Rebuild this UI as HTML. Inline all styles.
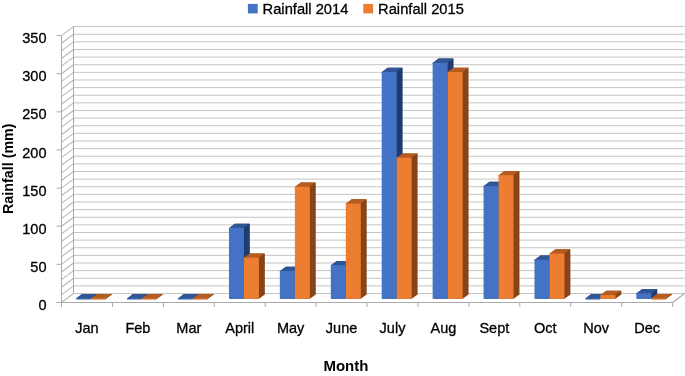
<!DOCTYPE html>
<html><head><meta charset="utf-8"><style>
html,body{margin:0;padding:0;background:#fff;}
svg{display:block;will-change:transform;}
.t{font-family:"Liberation Sans",sans-serif;font-size:14.5px;fill:#000;stroke:#000;stroke-width:0.3px;}
.lg{font-size:14.7px;}
.b{font-family:"Liberation Sans",sans-serif;font-weight:bold;fill:#000;}
</style></head><body>
<svg width="685" height="376" viewBox="0 0 685 376">
<rect width="685" height="376" fill="#fff"/>
<line x1="73.5" y1="293.50" x2="684.6" y2="293.50" stroke="#c4c4c4" stroke-width="1"/>
<line x1="73.5" y1="285.87" x2="684.6" y2="285.87" stroke="#c4c4c4" stroke-width="1"/>
<line x1="73.5" y1="278.25" x2="684.6" y2="278.25" stroke="#c4c4c4" stroke-width="1"/>
<line x1="73.5" y1="270.62" x2="684.6" y2="270.62" stroke="#c4c4c4" stroke-width="1"/>
<line x1="73.5" y1="263.00" x2="684.6" y2="263.00" stroke="#c4c4c4" stroke-width="1"/>
<line x1="73.5" y1="255.37" x2="684.6" y2="255.37" stroke="#c4c4c4" stroke-width="1"/>
<line x1="73.5" y1="247.74" x2="684.6" y2="247.74" stroke="#c4c4c4" stroke-width="1"/>
<line x1="73.5" y1="240.12" x2="684.6" y2="240.12" stroke="#c4c4c4" stroke-width="1"/>
<line x1="73.5" y1="232.49" x2="684.6" y2="232.49" stroke="#c4c4c4" stroke-width="1"/>
<line x1="73.5" y1="224.87" x2="684.6" y2="224.87" stroke="#c4c4c4" stroke-width="1"/>
<line x1="73.5" y1="217.24" x2="684.6" y2="217.24" stroke="#c4c4c4" stroke-width="1"/>
<line x1="73.5" y1="209.61" x2="684.6" y2="209.61" stroke="#c4c4c4" stroke-width="1"/>
<line x1="73.5" y1="201.99" x2="684.6" y2="201.99" stroke="#c4c4c4" stroke-width="1"/>
<line x1="73.5" y1="194.36" x2="684.6" y2="194.36" stroke="#c4c4c4" stroke-width="1"/>
<line x1="73.5" y1="186.74" x2="684.6" y2="186.74" stroke="#c4c4c4" stroke-width="1"/>
<line x1="73.5" y1="179.11" x2="684.6" y2="179.11" stroke="#c4c4c4" stroke-width="1"/>
<line x1="73.5" y1="171.48" x2="684.6" y2="171.48" stroke="#c4c4c4" stroke-width="1"/>
<line x1="73.5" y1="163.86" x2="684.6" y2="163.86" stroke="#c4c4c4" stroke-width="1"/>
<line x1="73.5" y1="156.23" x2="684.6" y2="156.23" stroke="#c4c4c4" stroke-width="1"/>
<line x1="73.5" y1="148.61" x2="684.6" y2="148.61" stroke="#c4c4c4" stroke-width="1"/>
<line x1="73.5" y1="140.98" x2="684.6" y2="140.98" stroke="#c4c4c4" stroke-width="1"/>
<line x1="73.5" y1="133.35" x2="684.6" y2="133.35" stroke="#c4c4c4" stroke-width="1"/>
<line x1="73.5" y1="125.73" x2="684.6" y2="125.73" stroke="#c4c4c4" stroke-width="1"/>
<line x1="73.5" y1="118.10" x2="684.6" y2="118.10" stroke="#c4c4c4" stroke-width="1"/>
<line x1="73.5" y1="110.48" x2="684.6" y2="110.48" stroke="#c4c4c4" stroke-width="1"/>
<line x1="73.5" y1="102.85" x2="684.6" y2="102.85" stroke="#c4c4c4" stroke-width="1"/>
<line x1="73.5" y1="95.22" x2="684.6" y2="95.22" stroke="#c4c4c4" stroke-width="1"/>
<line x1="73.5" y1="87.60" x2="684.6" y2="87.60" stroke="#c4c4c4" stroke-width="1"/>
<line x1="73.5" y1="79.97" x2="684.6" y2="79.97" stroke="#c4c4c4" stroke-width="1"/>
<line x1="73.5" y1="72.35" x2="684.6" y2="72.35" stroke="#c4c4c4" stroke-width="1"/>
<line x1="73.5" y1="64.72" x2="684.6" y2="64.72" stroke="#c4c4c4" stroke-width="1"/>
<line x1="73.5" y1="57.09" x2="684.6" y2="57.09" stroke="#c4c4c4" stroke-width="1"/>
<line x1="73.5" y1="49.47" x2="684.6" y2="49.47" stroke="#c4c4c4" stroke-width="1"/>
<line x1="73.5" y1="41.84" x2="684.6" y2="41.84" stroke="#c4c4c4" stroke-width="1"/>
<line x1="73.5" y1="34.22" x2="684.6" y2="34.22" stroke="#c4c4c4" stroke-width="1"/>
<line x1="73.5" y1="26.59" x2="684.6" y2="26.59" stroke="#c4c4c4" stroke-width="1"/>
<line x1="61.5" y1="302.50" x2="73.5" y2="293.50" stroke="#b8b8b8" stroke-width="1.05"/>
<line x1="61.5" y1="294.87" x2="73.5" y2="285.87" stroke="#b8b8b8" stroke-width="1.05"/>
<line x1="61.5" y1="287.25" x2="73.5" y2="278.25" stroke="#b8b8b8" stroke-width="1.05"/>
<line x1="61.5" y1="279.62" x2="73.5" y2="270.62" stroke="#b8b8b8" stroke-width="1.05"/>
<line x1="61.5" y1="272.00" x2="73.5" y2="263.00" stroke="#b8b8b8" stroke-width="1.05"/>
<line x1="61.5" y1="264.37" x2="73.5" y2="255.37" stroke="#b8b8b8" stroke-width="1.05"/>
<line x1="61.5" y1="256.74" x2="73.5" y2="247.74" stroke="#b8b8b8" stroke-width="1.05"/>
<line x1="61.5" y1="249.12" x2="73.5" y2="240.12" stroke="#b8b8b8" stroke-width="1.05"/>
<line x1="61.5" y1="241.49" x2="73.5" y2="232.49" stroke="#b8b8b8" stroke-width="1.05"/>
<line x1="61.5" y1="233.87" x2="73.5" y2="224.87" stroke="#b8b8b8" stroke-width="1.05"/>
<line x1="61.5" y1="226.24" x2="73.5" y2="217.24" stroke="#b8b8b8" stroke-width="1.05"/>
<line x1="61.5" y1="218.61" x2="73.5" y2="209.61" stroke="#b8b8b8" stroke-width="1.05"/>
<line x1="61.5" y1="210.99" x2="73.5" y2="201.99" stroke="#b8b8b8" stroke-width="1.05"/>
<line x1="61.5" y1="203.36" x2="73.5" y2="194.36" stroke="#b8b8b8" stroke-width="1.05"/>
<line x1="61.5" y1="195.74" x2="73.5" y2="186.74" stroke="#b8b8b8" stroke-width="1.05"/>
<line x1="61.5" y1="188.11" x2="73.5" y2="179.11" stroke="#b8b8b8" stroke-width="1.05"/>
<line x1="61.5" y1="180.48" x2="73.5" y2="171.48" stroke="#b8b8b8" stroke-width="1.05"/>
<line x1="61.5" y1="172.86" x2="73.5" y2="163.86" stroke="#b8b8b8" stroke-width="1.05"/>
<line x1="61.5" y1="165.23" x2="73.5" y2="156.23" stroke="#b8b8b8" stroke-width="1.05"/>
<line x1="61.5" y1="157.61" x2="73.5" y2="148.61" stroke="#b8b8b8" stroke-width="1.05"/>
<line x1="61.5" y1="149.98" x2="73.5" y2="140.98" stroke="#b8b8b8" stroke-width="1.05"/>
<line x1="61.5" y1="142.35" x2="73.5" y2="133.35" stroke="#b8b8b8" stroke-width="1.05"/>
<line x1="61.5" y1="134.73" x2="73.5" y2="125.73" stroke="#b8b8b8" stroke-width="1.05"/>
<line x1="61.5" y1="127.10" x2="73.5" y2="118.10" stroke="#b8b8b8" stroke-width="1.05"/>
<line x1="61.5" y1="119.48" x2="73.5" y2="110.48" stroke="#b8b8b8" stroke-width="1.05"/>
<line x1="61.5" y1="111.85" x2="73.5" y2="102.85" stroke="#b8b8b8" stroke-width="1.05"/>
<line x1="61.5" y1="104.22" x2="73.5" y2="95.22" stroke="#b8b8b8" stroke-width="1.05"/>
<line x1="61.5" y1="96.60" x2="73.5" y2="87.60" stroke="#b8b8b8" stroke-width="1.05"/>
<line x1="61.5" y1="88.97" x2="73.5" y2="79.97" stroke="#b8b8b8" stroke-width="1.05"/>
<line x1="61.5" y1="81.35" x2="73.5" y2="72.35" stroke="#b8b8b8" stroke-width="1.05"/>
<line x1="61.5" y1="73.72" x2="73.5" y2="64.72" stroke="#b8b8b8" stroke-width="1.05"/>
<line x1="61.5" y1="66.09" x2="73.5" y2="57.09" stroke="#b8b8b8" stroke-width="1.05"/>
<line x1="61.5" y1="58.47" x2="73.5" y2="49.47" stroke="#b8b8b8" stroke-width="1.05"/>
<line x1="61.5" y1="50.84" x2="73.5" y2="41.84" stroke="#b8b8b8" stroke-width="1.05"/>
<line x1="61.5" y1="43.22" x2="73.5" y2="34.22" stroke="#b8b8b8" stroke-width="1.05"/>
<line x1="61.5" y1="35.59" x2="73.5" y2="26.59" stroke="#b8b8b8" stroke-width="1.05"/>
<line x1="73.5" y1="26.59" x2="73.5" y2="293.50" stroke="#aaaaaa" stroke-width="1"/>
<line x1="672.60" y1="302.5" x2="684.60" y2="293.5" stroke="#aaaaaa" stroke-width="1.1"/>
<polygon points="76.96,298.8 91.16,298.8 97.06,294.50 97.06,294.00 82.06,294.00 76.96,298.30" fill="#1f3c71"/>
<polygon points="76.16,298.30 82.06,294.00 96.76,294.00 90.86,298.30 90.86,299.50 76.16,299.50" fill="#2f5597"/>
<rect x="76.16" y="298.30" width="15.0" height="0.50" fill="#4472c4"/>
<polygon points="91.96,298.8 106.16,298.8 112.06,294.50 112.06,294.00 97.06,294.00 91.96,298.30" fill="#874418"/>
<polygon points="91.16,298.30 97.06,294.00 111.76,294.00 105.86,298.30 105.86,299.50 91.16,299.50" fill="#b65c20"/>
<rect x="91.16" y="298.30" width="15.0" height="0.50" fill="#ed7d31"/>
<polygon points="127.89,298.8 142.09,298.8 147.99,294.50 147.99,294.00 132.99,294.00 127.89,298.30" fill="#1f3c71"/>
<polygon points="127.09,298.30 132.99,294.00 147.69,294.00 141.79,298.30 141.79,299.50 127.09,299.50" fill="#2f5597"/>
<rect x="127.09" y="298.30" width="15.0" height="0.50" fill="#4472c4"/>
<polygon points="142.89,298.8 157.09,298.8 162.99,294.50 162.99,294.00 147.99,294.00 142.89,298.30" fill="#874418"/>
<polygon points="142.09,298.30 147.99,294.00 162.69,294.00 156.79,298.30 156.79,299.50 142.09,299.50" fill="#b65c20"/>
<rect x="142.09" y="298.30" width="15.0" height="0.50" fill="#ed7d31"/>
<polygon points="178.81,298.8 193.01,298.8 198.91,294.50 198.91,294.00 183.91,294.00 178.81,298.30" fill="#1f3c71"/>
<polygon points="178.01,298.30 183.91,294.00 198.61,294.00 192.71,298.30 192.71,299.50 178.01,299.50" fill="#2f5597"/>
<rect x="178.01" y="298.30" width="15.0" height="0.50" fill="#4472c4"/>
<polygon points="193.81,298.8 208.01,298.8 213.91,294.50 213.91,294.00 198.91,294.00 193.81,298.30" fill="#874418"/>
<polygon points="193.01,298.30 198.91,294.00 213.61,294.00 207.71,298.30 207.71,299.50 193.01,299.50" fill="#b65c20"/>
<rect x="193.01" y="298.30" width="15.0" height="0.50" fill="#ed7d31"/>
<polygon points="229.74,298.8 243.94,298.8 249.84,294.50 249.84,223.70 234.84,223.70 229.74,228.00" fill="#1f3c71"/>
<polygon points="228.94,228.00 234.84,223.70 249.54,223.70 243.64,228.00 243.64,229.20 228.94,229.20" fill="#2f5597"/>
<rect x="228.94" y="228.00" width="15.0" height="70.80" fill="#4472c4"/>
<polygon points="244.74,298.8 258.94,298.8 264.84,294.50 264.84,253.40 249.84,253.40 244.74,257.70" fill="#874418"/>
<polygon points="243.94,257.70 249.84,253.40 264.54,253.40 258.64,257.70 258.64,258.90 243.94,258.90" fill="#b65c20"/>
<rect x="243.94" y="257.70" width="15.0" height="41.10" fill="#ed7d31"/>
<polygon points="280.66,298.8 294.86,298.8 300.76,294.50 300.76,266.70 285.76,266.70 280.66,271.00" fill="#1f3c71"/>
<polygon points="279.86,271.00 285.76,266.70 300.46,266.70 294.56,271.00 294.56,272.20 279.86,272.20" fill="#2f5597"/>
<rect x="279.86" y="271.00" width="15.0" height="27.80" fill="#4472c4"/>
<polygon points="295.66,298.8 309.86,298.8 315.76,294.50 315.76,182.40 300.76,182.40 295.66,186.70" fill="#874418"/>
<polygon points="294.86,186.70 300.76,182.40 315.46,182.40 309.56,186.70 309.56,187.90 294.86,187.90" fill="#b65c20"/>
<rect x="294.86" y="186.70" width="15.0" height="112.10" fill="#ed7d31"/>
<polygon points="331.59,298.8 345.79,298.8 351.69,294.50 351.69,260.90 336.69,260.90 331.59,265.20" fill="#1f3c71"/>
<polygon points="330.79,265.20 336.69,260.90 351.39,260.90 345.49,265.20 345.49,266.40 330.79,266.40" fill="#2f5597"/>
<rect x="330.79" y="265.20" width="15.0" height="33.60" fill="#4472c4"/>
<polygon points="346.59,298.8 360.79,298.8 366.69,294.50 366.69,199.30 351.69,199.30 346.59,203.60" fill="#874418"/>
<polygon points="345.79,203.60 351.69,199.30 366.39,199.30 360.49,203.60 360.49,204.80 345.79,204.80" fill="#b65c20"/>
<rect x="345.79" y="203.60" width="15.0" height="95.20" fill="#ed7d31"/>
<polygon points="382.51,298.8 396.71,298.8 402.61,294.50 402.61,67.70 387.61,67.70 382.51,72.00" fill="#1f3c71"/>
<polygon points="381.71,72.00 387.61,67.70 402.31,67.70 396.41,72.00 396.41,73.20 381.71,73.20" fill="#2f5597"/>
<rect x="381.71" y="72.00" width="15.0" height="226.80" fill="#4472c4"/>
<polygon points="397.51,298.8 411.71,298.8 417.61,294.50 417.61,153.40 402.61,153.40 397.51,157.70" fill="#874418"/>
<polygon points="396.71,157.70 402.61,153.40 417.31,153.40 411.41,157.70 411.41,158.90 396.71,158.90" fill="#b65c20"/>
<rect x="396.71" y="157.70" width="15.0" height="141.10" fill="#ed7d31"/>
<polygon points="433.44,298.8 447.64,298.8 453.54,294.50 453.54,58.50 438.54,58.50 433.44,62.80" fill="#1f3c71"/>
<polygon points="432.64,62.80 438.54,58.50 453.24,58.50 447.34,62.80 447.34,64.00 432.64,64.00" fill="#2f5597"/>
<rect x="432.64" y="62.80" width="15.0" height="236.00" fill="#4472c4"/>
<polygon points="448.44,298.8 462.64,298.8 468.54,294.50 468.54,67.70 453.54,67.70 448.44,72.00" fill="#874418"/>
<polygon points="447.64,72.00 453.54,67.70 468.24,67.70 462.34,72.00 462.34,73.20 447.64,73.20" fill="#b65c20"/>
<rect x="447.64" y="72.00" width="15.0" height="226.80" fill="#ed7d31"/>
<polygon points="484.36,298.8 498.56,298.8 504.46,294.50 504.46,181.80 489.46,181.80 484.36,186.10" fill="#1f3c71"/>
<polygon points="483.56,186.10 489.46,181.80 504.16,181.80 498.26,186.10 498.26,187.30 483.56,187.30" fill="#2f5597"/>
<rect x="483.56" y="186.10" width="15.0" height="112.70" fill="#4472c4"/>
<polygon points="499.36,298.8 513.56,298.8 519.46,294.50 519.46,170.90 504.46,170.90 499.36,175.20" fill="#874418"/>
<polygon points="498.56,175.20 504.46,170.90 519.16,170.90 513.26,175.20 513.26,176.40 498.56,176.40" fill="#b65c20"/>
<rect x="498.56" y="175.20" width="15.0" height="123.60" fill="#ed7d31"/>
<polygon points="535.29,298.8 549.49,298.8 555.39,294.50 555.39,255.40 540.39,255.40 535.29,259.70" fill="#1f3c71"/>
<polygon points="534.49,259.70 540.39,255.40 555.09,255.40 549.19,259.70 549.19,260.90 534.49,260.90" fill="#2f5597"/>
<rect x="534.49" y="259.70" width="15.0" height="39.10" fill="#4472c4"/>
<polygon points="550.29,298.8 564.49,298.8 570.39,294.50 570.39,249.30 555.39,249.30 550.29,253.60" fill="#874418"/>
<polygon points="549.49,253.60 555.39,249.30 570.09,249.30 564.19,253.60 564.19,254.80 549.49,254.80" fill="#b65c20"/>
<rect x="549.49" y="253.60" width="15.0" height="45.20" fill="#ed7d31"/>
<polygon points="586.21,298.8 600.41,298.8 606.31,294.50 606.31,294.00 591.31,294.00 586.21,298.30" fill="#1f3c71"/>
<polygon points="585.41,298.30 591.31,294.00 606.01,294.00 600.11,298.30 600.11,299.50 585.41,299.50" fill="#2f5597"/>
<rect x="585.41" y="298.30" width="15.0" height="0.50" fill="#4472c4"/>
<polygon points="601.21,298.8 615.41,298.8 621.31,294.50 621.31,290.80 606.31,290.80 601.21,295.10" fill="#874418"/>
<polygon points="600.41,295.10 606.31,290.80 621.01,290.80 615.11,295.10 615.11,296.30 600.41,296.30" fill="#b65c20"/>
<rect x="600.41" y="295.10" width="15.0" height="3.70" fill="#ed7d31"/>
<polygon points="637.14,298.8 651.34,298.8 657.24,294.50 657.24,289.00 642.24,289.00 637.14,293.30" fill="#1f3c71"/>
<polygon points="636.34,293.30 642.24,289.00 656.94,289.00 651.04,293.30 651.04,294.50 636.34,294.50" fill="#2f5597"/>
<rect x="636.34" y="293.30" width="15.0" height="5.50" fill="#4472c4"/>
<polygon points="652.14,298.8 666.34,298.8 672.24,294.50 672.24,294.00 657.24,294.00 652.14,298.30" fill="#874418"/>
<polygon points="651.34,298.30 657.24,294.00 671.94,294.00 666.04,298.30 666.04,299.50 651.34,299.50" fill="#b65c20"/>
<rect x="651.34" y="298.30" width="15.0" height="0.50" fill="#ed7d31"/>
<line x1="61.5" y1="35.59" x2="61.5" y2="302.5" stroke="#aaaaaa" stroke-width="1"/>
<line x1="56.5" y1="302.5" x2="672.60" y2="302.5" stroke="#aaaaaa" stroke-width="1"/>
<line x1="56.5" y1="302.50" x2="61.5" y2="302.50" stroke="#aaaaaa" stroke-width="1"/>
<text x="46.5" y="310.10" text-anchor="end" class="t">0</text>
<line x1="56.5" y1="264.37" x2="61.5" y2="264.37" stroke="#aaaaaa" stroke-width="1"/>
<text x="46.5" y="271.97" text-anchor="end" class="t">50</text>
<line x1="56.5" y1="226.24" x2="61.5" y2="226.24" stroke="#aaaaaa" stroke-width="1"/>
<text x="46.5" y="233.84" text-anchor="end" class="t">100</text>
<line x1="56.5" y1="188.11" x2="61.5" y2="188.11" stroke="#aaaaaa" stroke-width="1"/>
<text x="46.5" y="195.71" text-anchor="end" class="t">150</text>
<line x1="56.5" y1="149.98" x2="61.5" y2="149.98" stroke="#aaaaaa" stroke-width="1"/>
<text x="46.5" y="157.58" text-anchor="end" class="t">200</text>
<line x1="56.5" y1="111.85" x2="61.5" y2="111.85" stroke="#aaaaaa" stroke-width="1"/>
<text x="46.5" y="119.45" text-anchor="end" class="t">250</text>
<line x1="56.5" y1="73.72" x2="61.5" y2="73.72" stroke="#aaaaaa" stroke-width="1"/>
<text x="46.5" y="81.32" text-anchor="end" class="t">300</text>
<line x1="56.5" y1="35.59" x2="61.5" y2="35.59" stroke="#aaaaaa" stroke-width="1"/>
<text x="46.5" y="43.19" text-anchor="end" class="t">350</text>
<line x1="61.50" y1="302.5" x2="61.50" y2="307.0" stroke="#aaaaaa" stroke-width="1"/>
<line x1="112.43" y1="302.5" x2="112.43" y2="307.0" stroke="#aaaaaa" stroke-width="1"/>
<line x1="163.35" y1="302.5" x2="163.35" y2="307.0" stroke="#aaaaaa" stroke-width="1"/>
<line x1="214.28" y1="302.5" x2="214.28" y2="307.0" stroke="#aaaaaa" stroke-width="1"/>
<line x1="265.20" y1="302.5" x2="265.20" y2="307.0" stroke="#aaaaaa" stroke-width="1"/>
<line x1="316.12" y1="302.5" x2="316.12" y2="307.0" stroke="#aaaaaa" stroke-width="1"/>
<line x1="367.05" y1="302.5" x2="367.05" y2="307.0" stroke="#aaaaaa" stroke-width="1"/>
<line x1="417.98" y1="302.5" x2="417.98" y2="307.0" stroke="#aaaaaa" stroke-width="1"/>
<line x1="468.90" y1="302.5" x2="468.90" y2="307.0" stroke="#aaaaaa" stroke-width="1"/>
<line x1="519.83" y1="302.5" x2="519.83" y2="307.0" stroke="#aaaaaa" stroke-width="1"/>
<line x1="570.75" y1="302.5" x2="570.75" y2="307.0" stroke="#aaaaaa" stroke-width="1"/>
<line x1="621.68" y1="302.5" x2="621.68" y2="307.0" stroke="#aaaaaa" stroke-width="1"/>
<line x1="672.60" y1="302.5" x2="672.60" y2="307.0" stroke="#aaaaaa" stroke-width="1"/>
<text x="86.96" y="332.9" text-anchor="middle" class="t">Jan</text>
<text x="137.89" y="332.9" text-anchor="middle" class="t">Feb</text>
<text x="188.81" y="332.9" text-anchor="middle" class="t">Mar</text>
<text x="239.74" y="332.9" text-anchor="middle" class="t">April</text>
<text x="290.66" y="332.9" text-anchor="middle" class="t">May</text>
<text x="341.59" y="332.9" text-anchor="middle" class="t">June</text>
<text x="392.51" y="332.9" text-anchor="middle" class="t">July</text>
<text x="443.44" y="332.9" text-anchor="middle" class="t">Aug</text>
<text x="494.36" y="332.9" text-anchor="middle" class="t">Sept</text>
<text x="545.29" y="332.9" text-anchor="middle" class="t">Oct</text>
<text x="596.21" y="332.9" text-anchor="middle" class="t">Nov</text>
<text x="647.14" y="332.9" text-anchor="middle" class="t">Dec</text>
<text x="345.9" y="370.7" text-anchor="middle" class="b" font-size="15">Month</text>
<text transform="translate(12.9,168.7) rotate(-90)" text-anchor="middle" class="b" font-size="14.3">Rainfall (mm)</text>
<rect x="247.9" y="3.9" width="9.8" height="9.5" fill="#4472c4"/>
<text x="262.6" y="13.8" class="t lg">Rainfall 2014</text>
<rect x="363.3" y="3.9" width="9.8" height="9.5" fill="#ed7d31"/>
<text x="378.1" y="13.8" class="t lg">Rainfall 2015</text>
</svg>
</body></html>
